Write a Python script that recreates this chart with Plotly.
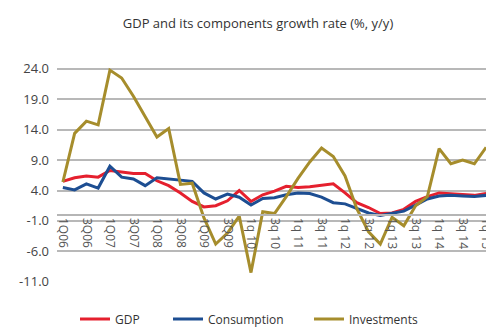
import plotly.graph_objects as go

quarters = [
    "1Q06", "2Q06", "3Q06", "4Q06", "1Q07", "2Q07", "3Q07", "4Q07",
    "1Q08", "2Q08", "3Q08", "4Q08", "1Q09", "2Q09", "3Q09", "4Q09",
    "1q 10", "2q 10", "3q 10", "4q 10", "1q 11", "2q 11", "3q 11", "4q 11",
    "1q 12", "2q 12", "3q 12", "4q 12", "1q 13", "2q 13", "3q 13", "4q 13",
    "1q 14", "2q 14", "3q 14", "4q 14", "1q 15",
]
tick_labels = quarters[::2]

gdp = [5.5, 6.1, 6.4, 6.2, 7.3, 7.0, 6.8, 6.8, 5.6, 4.8, 3.6, 2.2, 1.3,
       1.5, 2.3, 4.0, 2.2, 3.3, 3.9, 4.7, 4.5, 4.6, 4.8, 5.1, 3.6, 2.0,
       1.2, 0.2, 0.3, 0.9, 2.2, 3.0, 3.6, 3.5, 3.3, 3.2, 3.5]
consumption = [4.5, 4.1, 5.1, 4.4, 8.0, 6.2, 5.9, 4.8, 6.1, 5.9, 5.8, 5.5,
               3.6, 2.6, 3.4, 2.9, 1.6, 2.7, 2.8, 3.3, 3.6, 3.5, 2.9, 2.0,
               1.8, 1.1, 0.3, -0.1, 0.2, 0.6, 1.6, 2.6, 3.1, 3.2, 3.1, 3.0, 3.2]
investments = [5.4, 13.4, 15.4, 14.8, 23.8, 22.5, 19.5, 16.2, 12.8, 14.2,
               5.0, 5.2, -0.5, -4.8, -3.0, -0.2, -9.5, 0.5, 0.2, 3.0, 6.0,
               8.7, 11.0, 9.6, 6.4, 1.0, -2.8, -4.8, -0.4, -1.8, 1.5, 3.0,
               10.9, 8.4, 9.0, 8.4, 11.1]

y_ticks = [-11, -6, -1, 4, 9, 14, 19, 24]

series = [
    ("GDP", gdp, "#e5202e", "legend"),
    ("Consumption", consumption, "#1d4e92", "legend2"),
    ("Investments", investments, "#a68d2c", "legend3"),
]

# page body has an 8px default margin; size the figure so it fills the window
OFF = 8
W, H = 494 - OFF, 327 - OFF


def px(x):
    return (x - OFF) / W


def py(y):
    return 1 - (y - OFF) / H


fig = go.Figure()
for name, vals, color, lg in series:
    fig.add_trace(go.Scatter(
        x=quarters, y=vals, name=name, mode="lines",
        line=dict(color=color, width=3), legend=lg, showlegend=True,
    ))

y_lo, y_hi = -11.05, 25.3
zero_pos = (0 - y_lo) / (y_hi - y_lo)

legend_common = dict(orientation="h", xref="container", yref="container",
                     yanchor="middle", xanchor="left", bgcolor="rgba(0,0,0,0)",
                     visible=True,
                     font=dict(family="Open Sans, sans-serif", size=12, color="#333333"))
leg_y = py(319)

fig.update_layout(
    width=W, height=H,
    showlegend=True,
    margin=dict(l=57 - OFF, r=2, t=60.6 - OFF, b=45, autoexpand=False),
    paper_bgcolor="white", plot_bgcolor="white",
    title=dict(text="GDP and its components growth rate (%, y/y)",
               x=px(258), xanchor="center", y=py(23), yanchor="middle",
               yref="container", xref="container",
               font=dict(family="Open Sans, sans-serif", size=13, color="#333333")),
    legend=dict(x=px(75), y=leg_y, **legend_common),
    legend2=dict(x=px(168), y=leg_y, **legend_common),
    legend3=dict(x=px(309), y=leg_y, **legend_common),
    xaxis=dict(
        type="category", categoryorder="array", categoryarray=quarters,
        range=[-0.5, len(quarters) - 0.5],
        tickmode="array", tickvals=tick_labels, ticktext=tick_labels,
        tickangle=90, showgrid=False, showline=True, linecolor="#b5b5b5",
        linewidth=1.5, anchor="free", position=zero_pos, automargin=False,
        ticks="", tickfont=dict(family="Open Sans, sans-serif", size=12, color="#555555"),
        zeroline=False,
    ),
    yaxis=dict(
        range=[y_lo, y_hi], tickmode="array", tickvals=y_ticks,
        ticktext=[f"{v:.1f}" for v in y_ticks],
        showgrid=True, gridcolor="#b8b8b8", gridwidth=1.5,
        zeroline=False, showline=False, automargin=False,
        ticklabelstandoff=7,
        tickfont=dict(family="Open Sans, sans-serif", size=13, color="#444444"),
    ),
)

fig.write_html("out.html")
